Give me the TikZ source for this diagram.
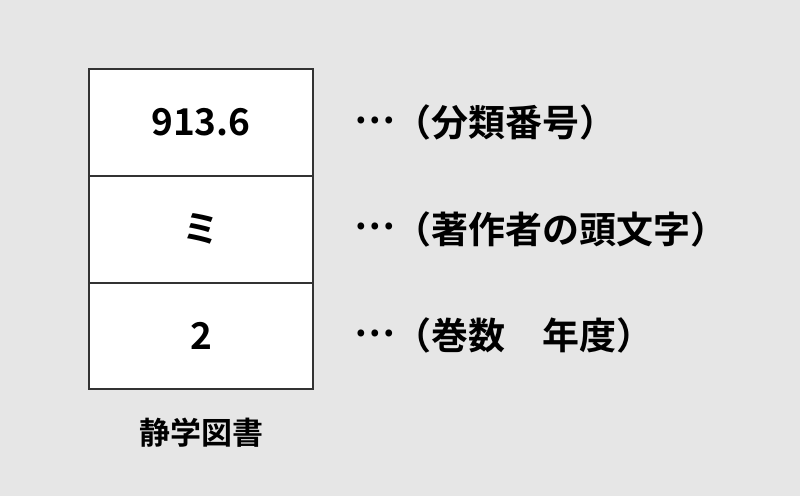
\documentclass[tikz,border=0pt]{standalone}
\usepackage{fontspec}
\setmainfont{Noto Sans CJK JP}[BoldFont={* Bold}]
\usetikzlibrary{positioning}
\definecolor{bggray}{HTML}{E6E6E6}
\definecolor{edgegray}{HTML}{333333}
\newcommand{\middots}{\raisebox{0.36em}{…}}
\tikzset{
	cell/.style={draw=edgegray, line width=2pt, fill=white, minimum width=224pt, minimum height=106.67pt, inner sep=0pt, font=\fontsize{37}{40}\selectfont\bfseries},
	note/.style={inner sep=0pt, font=\fontsize{37}{40}\selectfont\bfseries}
}
\begin{document}
\begin{tikzpicture}[x=1pt,y=1pt]
				\fill[bggray] (0,0) rectangle (800,-496);
				\useasboundingbox (0,0) rectangle (800,-496);

				\node[cell] (numrow) at (201,-122.5) {913.6};
				\node[cell, below=-2pt of numrow] (authrow) {ミ};
				\node[cell, below=-2pt of authrow] (volrow) {2};

				\node[note, right=40pt of numrow] (numnote) {\middots（分類番号）};
				\node[note, right=40pt of authrow] (authnote) {\middots（著作者の頭文字）};
				\node[note, right=40pt of volrow] (volnote) {\middots（巻数　年度）};

				\node[note, font=\fontsize{31}{34}\selectfont\bfseries] (school) at ([yshift=-42pt]volrow.south) {静学図書};
			\end{tikzpicture}
\end{document}
